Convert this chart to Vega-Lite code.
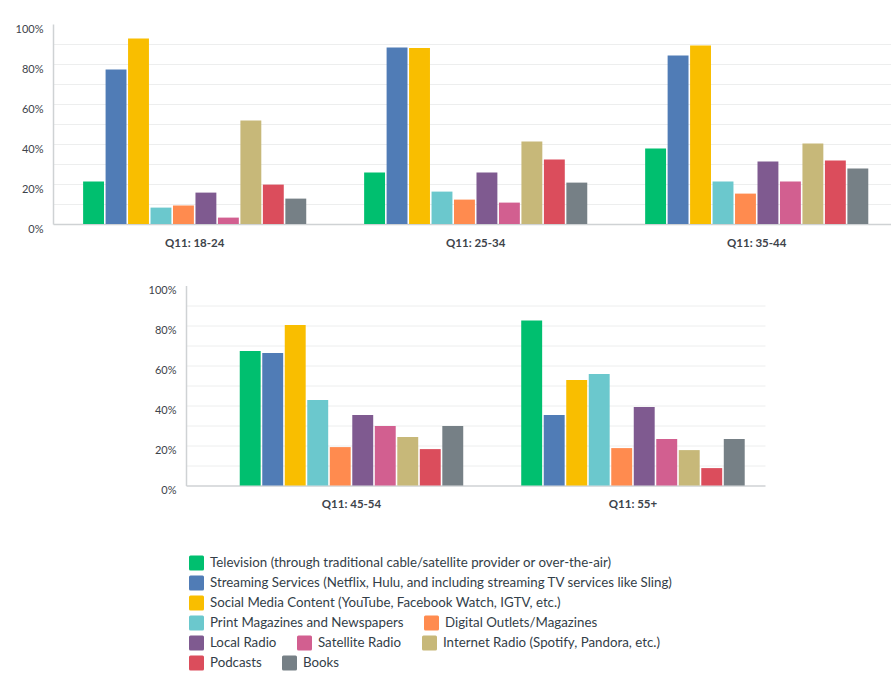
{
  "$schema": "https://vega.github.io/schema/vega-lite/v6.json",
  "padding": {"left": 15, "top": 23, "right": 0, "bottom": 0},
  "background": "white",
  "datasets": {
    "survey": [
      {"age": "Q11: 18-24", "media": "Television (through traditional cable/satellite provider or over-the-air)", "pct": 21.2},
      {"age": "Q11: 18-24", "media": "Streaming Services (Netflix, Hulu, and including streaming TV services like Sling)", "pct": 77.2},
      {"age": "Q11: 18-24", "media": "Social Media Content (YouTube, Facebook Watch, IGTV, etc.)", "pct": 92.7},
      {"age": "Q11: 18-24", "media": "Print Magazines and Newspapers", "pct": 8.2},
      {"age": "Q11: 18-24", "media": "Digital Outlets/Magazines", "pct": 9.2},
      {"age": "Q11: 18-24", "media": "Local Radio", "pct": 15.7},
      {"age": "Q11: 18-24", "media": "Satellite Radio", "pct": 3.2},
      {"age": "Q11: 18-24", "media": "Internet Radio (Spotify, Pandora, etc.)", "pct": 51.7},
      {"age": "Q11: 18-24", "media": "Podcasts", "pct": 19.7},
      {"age": "Q11: 18-24", "media": "Books", "pct": 12.7},
      {"age": "Q11: 25-34", "media": "Television (through traditional cable/satellite provider or over-the-air)", "pct": 25.7},
      {"age": "Q11: 25-34", "media": "Streaming Services (Netflix, Hulu, and including streaming TV services like Sling)", "pct": 88.2},
      {"age": "Q11: 25-34", "media": "Social Media Content (YouTube, Facebook Watch, IGTV, etc.)", "pct": 88.0},
      {"age": "Q11: 25-34", "media": "Print Magazines and Newspapers", "pct": 16.2},
      {"age": "Q11: 25-34", "media": "Digital Outlets/Magazines", "pct": 12.2},
      {"age": "Q11: 25-34", "media": "Local Radio", "pct": 25.7},
      {"age": "Q11: 25-34", "media": "Satellite Radio", "pct": 10.7},
      {"age": "Q11: 25-34", "media": "Internet Radio (Spotify, Pandora, etc.)", "pct": 41.2},
      {"age": "Q11: 25-34", "media": "Podcasts", "pct": 32.2},
      {"age": "Q11: 25-34", "media": "Books", "pct": 20.7},
      {"age": "Q11: 35-44", "media": "Television (through traditional cable/satellite provider or over-the-air)", "pct": 37.7},
      {"age": "Q11: 35-44", "media": "Streaming Services (Netflix, Hulu, and including streaming TV services like Sling)", "pct": 84.2},
      {"age": "Q11: 35-44", "media": "Social Media Content (YouTube, Facebook Watch, IGTV, etc.)", "pct": 89.2},
      {"age": "Q11: 35-44", "media": "Print Magazines and Newspapers", "pct": 21.2},
      {"age": "Q11: 35-44", "media": "Digital Outlets/Magazines", "pct": 15.2},
      {"age": "Q11: 35-44", "media": "Local Radio", "pct": 31.2},
      {"age": "Q11: 35-44", "media": "Satellite Radio", "pct": 21.2},
      {"age": "Q11: 35-44", "media": "Internet Radio (Spotify, Pandora, etc.)", "pct": 40.2},
      {"age": "Q11: 35-44", "media": "Podcasts", "pct": 31.7},
      {"age": "Q11: 35-44", "media": "Books", "pct": 27.7},
      {"age": "Q11: 45-54", "media": "Television (through traditional cable/satellite provider or over-the-air)", "pct": 67.3},
      {"age": "Q11: 45-54", "media": "Streaming Services (Netflix, Hulu, and including streaming TV services like Sling)", "pct": 66.3},
      {"age": "Q11: 45-54", "media": "Social Media Content (YouTube, Facebook Watch, IGTV, etc.)", "pct": 80.3},
      {"age": "Q11: 45-54", "media": "Print Magazines and Newspapers", "pct": 42.7},
      {"age": "Q11: 45-54", "media": "Digital Outlets/Magazines", "pct": 19.2},
      {"age": "Q11: 45-54", "media": "Local Radio", "pct": 35.2},
      {"age": "Q11: 45-54", "media": "Satellite Radio", "pct": 29.7},
      {"age": "Q11: 45-54", "media": "Internet Radio (Spotify, Pandora, etc.)", "pct": 24.2},
      {"age": "Q11: 45-54", "media": "Podcasts", "pct": 18.2},
      {"age": "Q11: 45-54", "media": "Books", "pct": 29.7},
      {"age": "Q11: 55+", "media": "Television (through traditional cable/satellite provider or over-the-air)", "pct": 82.5},
      {"age": "Q11: 55+", "media": "Streaming Services (Netflix, Hulu, and including streaming TV services like Sling)", "pct": 35.2},
      {"age": "Q11: 55+", "media": "Social Media Content (YouTube, Facebook Watch, IGTV, etc.)", "pct": 52.7},
      {"age": "Q11: 55+", "media": "Print Magazines and Newspapers", "pct": 55.7},
      {"age": "Q11: 55+", "media": "Digital Outlets/Magazines", "pct": 18.7},
      {"age": "Q11: 55+", "media": "Local Radio", "pct": 39.2},
      {"age": "Q11: 55+", "media": "Satellite Radio", "pct": 23.2},
      {"age": "Q11: 55+", "media": "Internet Radio (Spotify, Pandora, etc.)", "pct": 17.7},
      {"age": "Q11: 55+", "media": "Podcasts", "pct": 8.7},
      {"age": "Q11: 55+", "media": "Books", "pct": 23.2}
    ]
  },
  "config": {
    "view": {"stroke": null},
    "font": "Lato",
    "axis": {
      "title": null,
      "ticks": false,
      "domainColor": "#cfd2d4",
      "domainWidth": 1.5,
      "gridColor": "#edeeee",
      "gridWidth": 1,
      "labelFont": "Lato",
      "labelFontSize": 11,
      "labelColor": "#3d434a"
    },
    "axisX": {"labelPadding": 13, "labelFontSize": 11.5, "labelFontWeight": "bold", "labelAngle": 0, "grid": false},
    "axisY": {"labelPadding": 10, "labelOffset": 5, "labelFontWeight": "normal"},
    "legend": {
      "title": null,
      "padding": 0,
      "orient": "none",
      "direction": "horizontal",
      "symbolType": "M-0.8,-1L0.8,-1Q1,-1,1,-0.8L1,0.8Q1,1,0.8,1L-0.8,1Q-1,1,-1,0.8L-1,-0.8Q-1,-1,-0.8,-1Z",
      "symbolSize": 225,
      "symbolStrokeWidth": 0,
      "symbolOpacity": 1,
      "labelFont": "Lato",
      "labelFontSize": 13.3,
      "labelColor": "#333e48",
      "labelOffset": 6,
      "columnPadding": 20,
      "labelLimit": 600
    }
  },
  "spacing": 35.5,
  "resolve": {"scale": {"color": "independent", "x": "independent", "xOffset": "independent", "y": "independent"}},
  "vconcat": [
    {
      "width": 838,
      "height": 200,
      "data": {"name": "survey"},
      "transform": [{"filter": {"field": "age", "oneOf": ["Q11: 18-24", "Q11: 25-34", "Q11: 35-44"]}}],
      "mark": {"type": "bar"},
      "encoding": {
        "x": {"field": "age", "type": "nominal", "sort": null,
          "scale": {"domain": ["Q11: 18-24", "Q11: 25-34", "Q11: 35-44"], "paddingInner": 0.206, "paddingOuter": 0.094, "align": 0.57}},
        "xOffset": {"field": "media", "type": "nominal", "sort": null,
          "scale": {"domain": ["Television (through traditional cable/satellite provider or over-the-air)", "Streaming Services (Netflix, Hulu, and including streaming TV services like Sling)", "Social Media Content (YouTube, Facebook Watch, IGTV, etc.)", "Print Magazines and Newspapers", "Digital Outlets/Magazines", "Local Radio", "Satellite Radio", "Internet Radio (Spotify, Pandora, etc.)", "Podcasts", "Books"], "paddingInner": 0.07, "paddingOuter": 0}},
        "y": {"field": "pct", "type": "quantitative",
          "scale": {"domain": [0, 100], "nice": false},
          "axis": {"values": [0, 10, 20, 30, 40, 50, 60, 70, 80, 90, 100], "labelOverlap": false,
            "labelExpr": "datum.value % 20 === 0 ? datum.value + '%' : ''",
            "gridOpacity": {"condition": {"test": "datum.value === 0 || datum.value === 100", "value": 0}, "value": 1}}},
        "color": {"field": "media", "type": "nominal",
          "scale": {"domain": ["Television (through traditional cable/satellite provider or over-the-air)", "Streaming Services (Netflix, Hulu, and including streaming TV services like Sling)", "Social Media Content (YouTube, Facebook Watch, IGTV, etc.)", "Print Magazines and Newspapers", "Digital Outlets/Magazines", "Local Radio", "Satellite Radio", "Internet Radio (Spotify, Pandora, etc.)", "Podcasts", "Books"],
            "range": ["#00bf6f", "#507cb6", "#f9be00", "#6bc8cd", "#ff8b4f", "#7f5a90", "#d25f90", "#c7b879", "#db4d5c", "#768086"]},
          "legend": null}
      }
    },
    {
      "spacing": 0,
      "resolve": {"scale": {"color": "independent", "x": "independent", "xOffset": "independent", "y": "independent"}},
      "hconcat": [
        {
          "width": 95,
          "height": 10,
          "data": {"values": []},
          "mark": {"type": "point", "opacity": 0},
          "encoding": {}
        },
        {
          "width": 579,
          "height": 200,
          "data": {"name": "survey"},
          "transform": [{"filter": {"field": "age", "oneOf": ["Q11: 45-54", "Q11: 55+"]}}],
          "encoding": {
            "x": {"field": "age", "type": "nominal", "sort": null,
              "scale": {"domain": ["Q11: 45-54", "Q11: 55+"], "paddingInner": 0.206, "paddingOuter": 0.1315, "align": 0.726}},
            "xOffset": {"field": "media", "type": "nominal", "sort": null,
              "scale": {"domain": ["Television (through traditional cable/satellite provider or over-the-air)", "Streaming Services (Netflix, Hulu, and including streaming TV services like Sling)", "Social Media Content (YouTube, Facebook Watch, IGTV, etc.)", "Print Magazines and Newspapers", "Digital Outlets/Magazines", "Local Radio", "Satellite Radio", "Internet Radio (Spotify, Pandora, etc.)", "Podcasts", "Books"], "paddingInner": 0.07, "paddingOuter": 0}},
            "y": {"field": "pct", "type": "quantitative",
              "scale": {"domain": [0, 100], "nice": false},
              "axis": {"values": [0, 10, 20, 30, 40, 50, 60, 70, 80, 90, 100], "labelOverlap": false,
                "labelExpr": "datum.value % 20 === 0 ? datum.value + '%' : ''",
                "gridOpacity": {"condition": {"test": "datum.value === 0 || datum.value === 100", "value": 0}, "value": 1}}}
          },
          "resolve": {"scale": {"color": "independent"}},
          "layer": [
            {
              "transform": [{"filter": {"field": "media", "oneOf": ["Television (through traditional cable/satellite provider or over-the-air)"]}}],
              "mark": {"type": "bar"},
              "encoding": {"color": {"field": "media", "type": "nominal",
                "scale": {"domain": ["Television (through traditional cable/satellite provider or over-the-air)"], "range": ["#00bf6f"]},
                "legend": {"legendX": 3, "legendY": 270}}}
            },
            {
              "transform": [{"filter": {"field": "media", "oneOf": ["Streaming Services (Netflix, Hulu, and including streaming TV services like Sling)"]}}],
              "mark": {"type": "bar"},
              "encoding": {"color": {"field": "media", "type": "nominal",
                "scale": {"domain": ["Streaming Services (Netflix, Hulu, and including streaming TV services like Sling)"], "range": ["#507cb6"]},
                "legend": {"legendX": 3, "legendY": 290}}}
            },
            {
              "transform": [{"filter": {"field": "media", "oneOf": ["Social Media Content (YouTube, Facebook Watch, IGTV, etc.)"]}}],
              "mark": {"type": "bar"},
              "encoding": {"color": {"field": "media", "type": "nominal",
                "scale": {"domain": ["Social Media Content (YouTube, Facebook Watch, IGTV, etc.)"], "range": ["#f9be00"]},
                "legend": {"legendX": 3, "legendY": 310}}}
            },
            {
              "transform": [{"filter": {"field": "media", "oneOf": ["Print Magazines and Newspapers", "Digital Outlets/Magazines"]}}],
              "mark": {"type": "bar"},
              "encoding": {"color": {"field": "media", "type": "nominal",
                "scale": {"domain": ["Print Magazines and Newspapers", "Digital Outlets/Magazines"], "range": ["#6bc8cd", "#ff8b4f"]},
                "legend": {"legendX": 3, "legendY": 330}}}
            },
            {
              "transform": [{"filter": {"field": "media", "oneOf": ["Local Radio", "Satellite Radio", "Internet Radio (Spotify, Pandora, etc.)"]}}],
              "mark": {"type": "bar"},
              "encoding": {"color": {"field": "media", "type": "nominal",
                "scale": {"domain": ["Local Radio", "Satellite Radio", "Internet Radio (Spotify, Pandora, etc.)"], "range": ["#7f5a90", "#d25f90", "#c7b879"]},
                "legend": {"legendX": 3, "legendY": 350}}}
            },
            {
              "transform": [{"filter": {"field": "media", "oneOf": ["Podcasts", "Books"]}}],
              "mark": {"type": "bar"},
              "encoding": {"color": {"field": "media", "type": "nominal",
                "scale": {"domain": ["Podcasts", "Books"], "range": ["#db4d5c", "#768086"]},
                "legend": {"legendX": 3, "legendY": 370}}}
            }
          ]
        }
      ]
    }
  ]
}
